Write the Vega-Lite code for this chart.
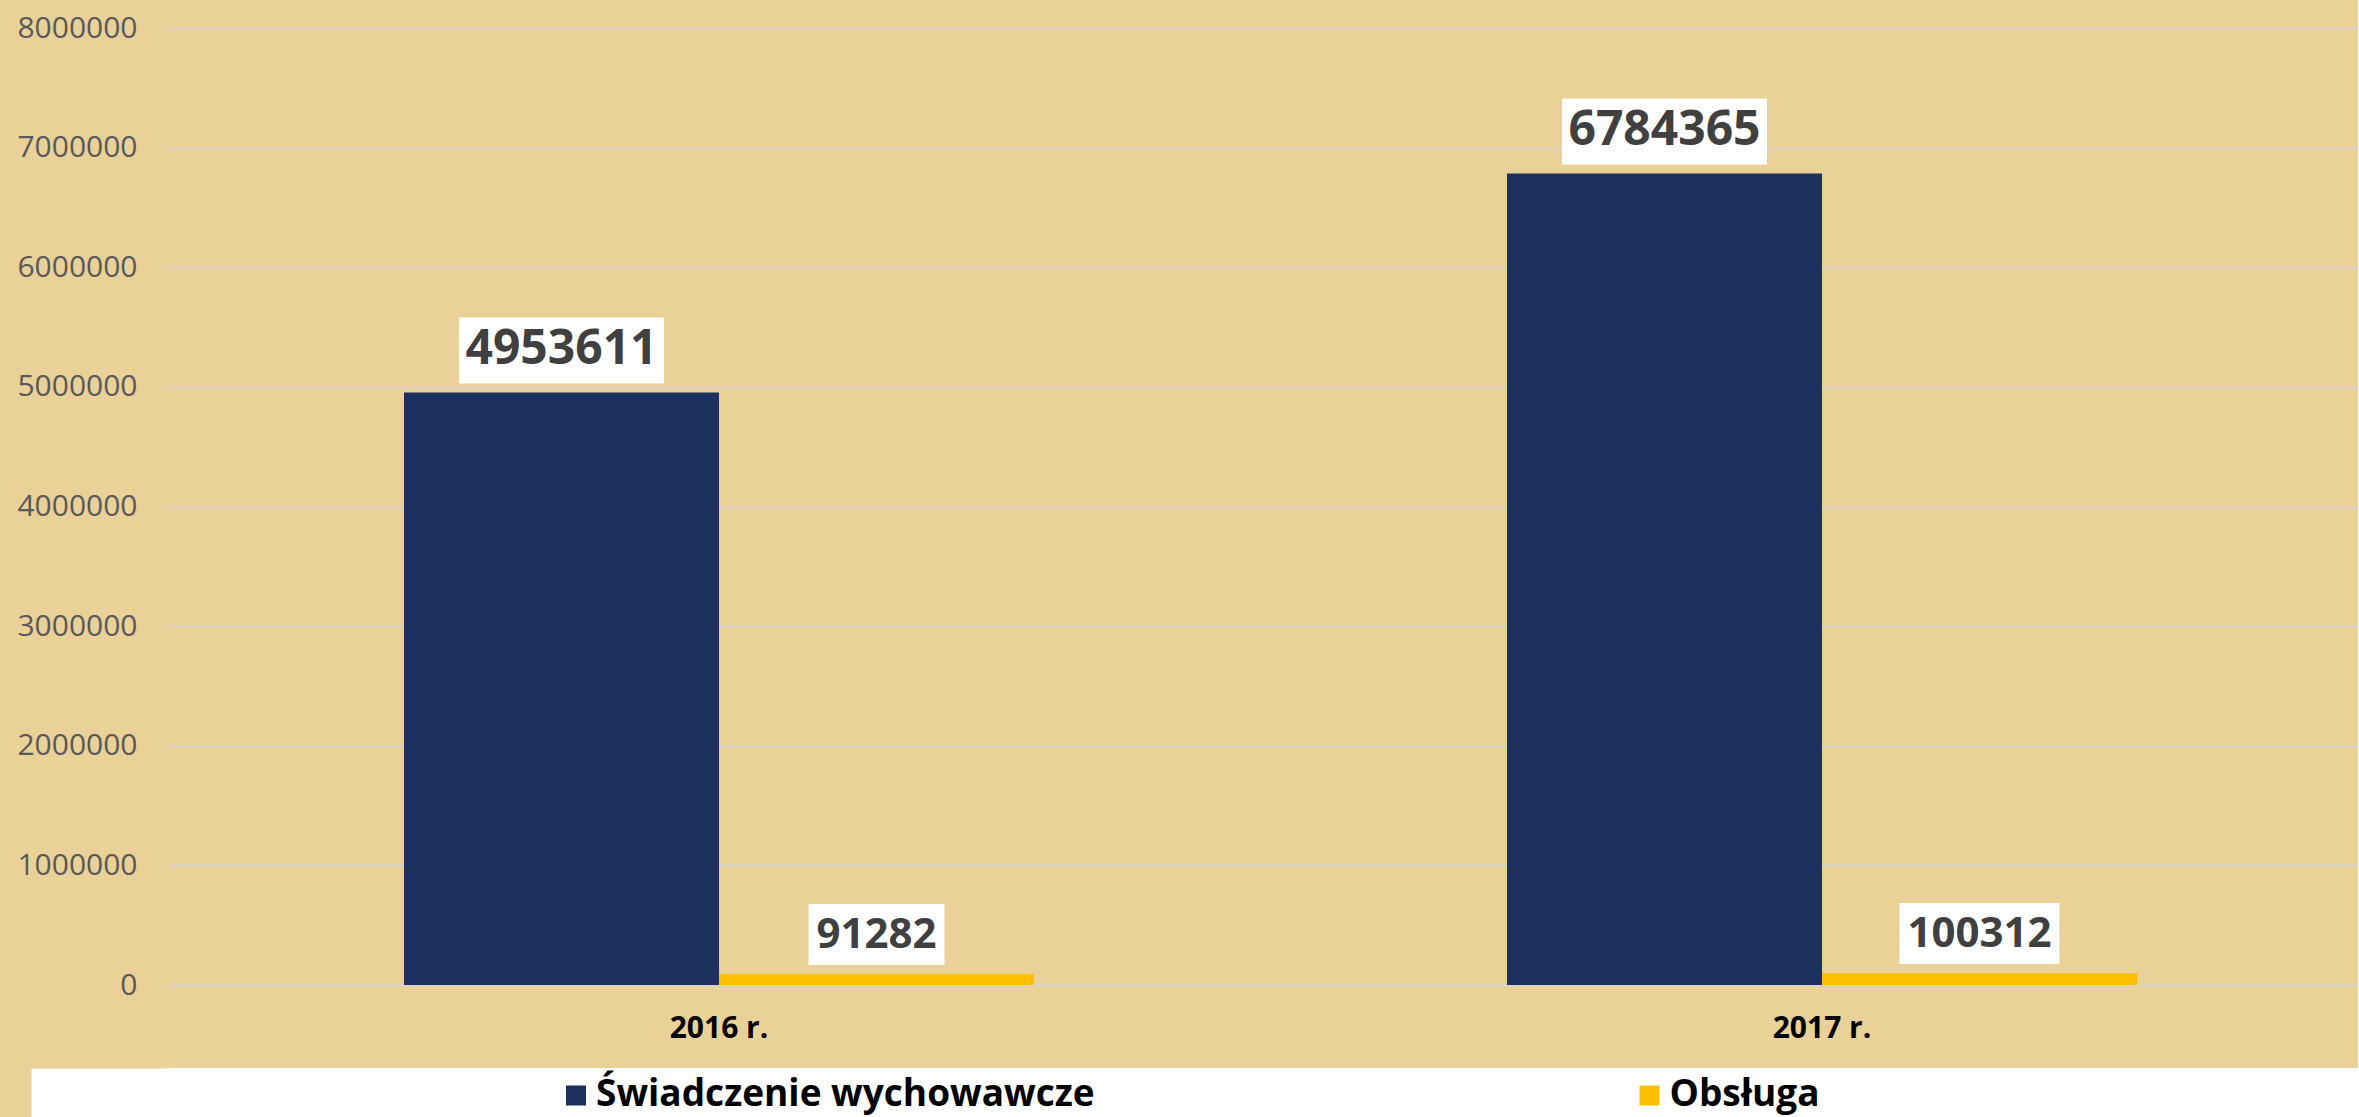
{
  "$schema": "https://vega.github.io/schema/vega-lite/v6.json",
  "background": "#E9D198",
  "padding": {"left": 16, "top": 13, "right": 0, "bottom": 0},
  "config": {"view": {"stroke": null}, "font": "Open Sans"},
  "datasets": {
    "bars": [
      {"year": "2016 r.", "series": "Świadczenie wychowawcze", "value": 4953611},
      {"year": "2016 r.", "series": "Obsługa", "value": 91282},
      {"year": "2017 r.", "series": "Świadczenie wychowawcze", "value": 6784365},
      {"year": "2017 r.", "series": "Obsługa", "value": 100312}
    ],
    "legend": [
      {"series": "Świadczenie wychowawcze"},
      {"series": "Obsługa"}
    ]
  },
  "resolve": {"scale": {"x": "independent", "y": "independent"}},
  "spacing": 25,
  "vconcat": [
    {
      "width": 2191,
      "height": 957,
      "data": {"name": "bars"},
      "encoding": {
        "x": {
          "field": "year", "type": "nominal",
          "scale": {"domain": ["2016 r.", "2017 r."], "paddingInner": 0.4288, "paddingOuter": 0.2076, "align": 0.5175},
          "axis": {"title": null, "labelAngle": 0, "labelFont": "Open Sans", "labelFontWeight": "bold", "labelFontSize": 30, "labelColor": "#000000", "labelPadding": 28, "ticks": false, "domain": false, "grid": false}
        },
        "xOffset": {
          "field": "series", "type": "nominal",
          "scale": {"domain": ["Świadczenie wychowawcze", "Obsługa"], "paddingInner": 0, "paddingOuter": 0}
        },
        "y": {
          "field": "value", "type": "quantitative",
          "scale": {"domain": [0, 8000000], "nice": false, "zero": true},
          "axis": {"title": null, "values": [0, 1000000, 2000000, 3000000, 4000000, 5000000, 6000000, 7000000, 8000000], "format": "d", "labelFont": "Open Sans", "labelFontSize": 30, "labelColor": "#595959", "labelPadding": 30, "ticks": false, "domain": false, "grid": true, "gridColor": "#D3D5D9", "gridWidth": 1.5, "labelFlush": false, "labelOverlap": false}
        }
      },
      "layer": [
        {
          "mark": {"type": "bar"},
          "encoding": {
            "color": {"field": "series", "type": "nominal", "scale": {"domain": ["Świadczenie wychowawcze", "Obsługa"], "range": ["#1C3160", "#FFC000"]}, "legend": null}
          }
        },
        {
          "transform": [{"filter": "datum.series == 'Świadczenie wychowawcze'"}],
          "mark": {"type": "bar", "color": "#FFFFFF", "width": 205, "yOffset": -75, "y2Offset": -9},
          "encoding": {"y2": {"field": "value"}}
        },
        {
          "transform": [{"filter": "datum.series == 'Obsługa' && datum.year == '2016 r.'"}],
          "mark": {"type": "bar", "color": "#FFFFFF", "width": 136, "yOffset": -70, "y2Offset": -9},
          "encoding": {"y2": {"field": "value"}}
        },
        {
          "transform": [{"filter": "datum.series == 'Obsługa' && datum.year == '2017 r.'"}],
          "mark": {"type": "bar", "color": "#FFFFFF", "width": 160, "yOffset": -70, "y2Offset": -9},
          "encoding": {"y2": {"field": "value"}}
        },
        {
          "transform": [{"filter": "datum.series == 'Świadczenie wychowawcze'"}],
          "mark": {"type": "text", "font": "Open Sans", "fontWeight": "bold", "fontSize": 48, "color": "#404040", "baseline": "middle", "align": "center", "dy": -42},
          "encoding": {"text": {"field": "value", "type": "quantitative", "format": "d"}}
        },
        {
          "transform": [{"filter": "datum.series == 'Obsługa'"}],
          "mark": {"type": "text", "font": "Open Sans", "fontWeight": "bold", "fontSize": 42, "color": "#404040", "baseline": "middle", "align": "center", "dy": -39},
          "encoding": {"text": {"field": "value", "type": "quantitative", "format": "d"}}
        }
      ]
    },
    {
      "width": 2191,
      "height": 49,
      "view": {"fill": "#FFFFFF", "stroke": null},
      "data": {"name": "legend"},
      "encoding": {
        "x": {"field": "series", "type": "nominal", "scale": {"type": "point", "domain": ["Świadczenie wychowawcze", "Obsługa"], "padding": 0.5205, "align": 0.366}, "axis": null},
        "y": {"datum": 0.5, "type": "quantitative", "scale": {"domain": [0, 1]}, "axis": {"title": null, "labels": false, "ticks": false, "grid": false, "domain": true, "domainColor": "#FFFFFF", "domainWidth": 136, "domainCap": "butt", "offset": 68}}
      },
      "layer": [
        {
          "mark": {"type": "point", "shape": "square", "filled": true, "size": 400, "opacity": 1, "yOffset": 3},
          "encoding": {"color": {"field": "series", "type": "nominal", "scale": {"domain": ["Świadczenie wychowawcze", "Obsługa"], "range": ["#1C3160", "#FFC000"]}, "legend": null}}
        },
        {
          "mark": {"type": "text", "align": "left", "baseline": "middle", "dx": 20, "yOffset": 2, "font": "Open Sans", "fontSize": 37, "fontWeight": "bold", "color": "#000000"},
          "encoding": {"text": {"field": "series", "type": "nominal"}}
        }
      ]
    }
  ]
}
